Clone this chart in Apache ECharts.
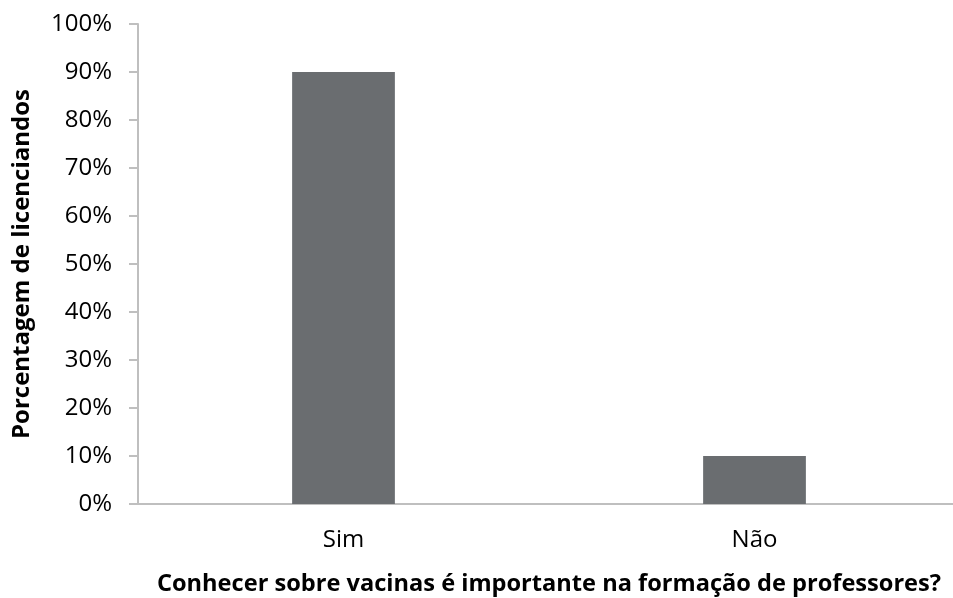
<!DOCTYPE html>
<html>
<head>
<meta charset="utf-8">
<script src="https://cdn.jsdelivr.net/npm/echarts@6/dist/echarts.min.js"></script>
<style>
  html, body { margin: 0; padding: 0; background: #fff; overflow: hidden; }
  #chart { width: 953px; height: 598px; }
</style>
</head>
<body>
<div id="chart"></div>
<script>
// Survey answers and share of respondents (percent)
const categories = ['Sim', 'Não'];
const percentages = [90, 10];
const yTicks = [0, 10, 20, 30, 40, 50, 60, 70, 80, 90, 100];

const xTitle = 'Conhecer sobre vacinas é importante na formação de professores?';
const yTitle = 'Porcentagem de licenciandos';

const font = '"Open Sans", sans-serif';
const axisColor = '#bfbfbf';

const chart = echarts.init(document.getElementById('chart'), null, { renderer: 'canvas' });
chart.setOption({
  animation: false,
  backgroundColor: '#ffffff',
  grid: { left: 138, right: -7, top: 24, bottom: 94, containLabel: false, outerBoundsMode: 'none' },
  xAxis: {
    type: 'category',
    data: categories,
    name: xTitle,
    nameLocation: 'middle',
    nameGap: 68,
    nameTextStyle: { fontFamily: font, fontWeight: 'bold', fontSize: 23.6, color: '#000' },
    axisLine: { lineStyle: { color: axisColor, width: 2 } },
    axisTick: { show: false },
    axisLabel: { fontFamily: font, fontSize: 24, color: '#000', margin: 24 }
  },
  yAxis: {
    type: 'value',
    min: yTicks[0],
    max: yTicks[yTicks.length - 1],
    interval: yTicks[1] - yTicks[0],
    name: yTitle,
    nameLocation: 'middle',
    nameGap: 104,
    nameTextStyle: { fontFamily: font, fontWeight: 'bold', fontSize: 24, color: '#000' },
    splitLine: { show: false },
    axisLine: { show: true, lineStyle: { color: axisColor, width: 2 } },
    axisTick: { show: true, length: 9, lineStyle: { color: axisColor, width: 2 } },
    axisLabel: { fontFamily: font, fontSize: 24, color: '#000', margin: 26, formatter: v => v + '%' }
  },
  series: [{
    type: 'bar',
    data: percentages,
    barWidth: '25%',
    itemStyle: { color: '#6a6d70' }
  }]
});
</script>
</body>
</html>
